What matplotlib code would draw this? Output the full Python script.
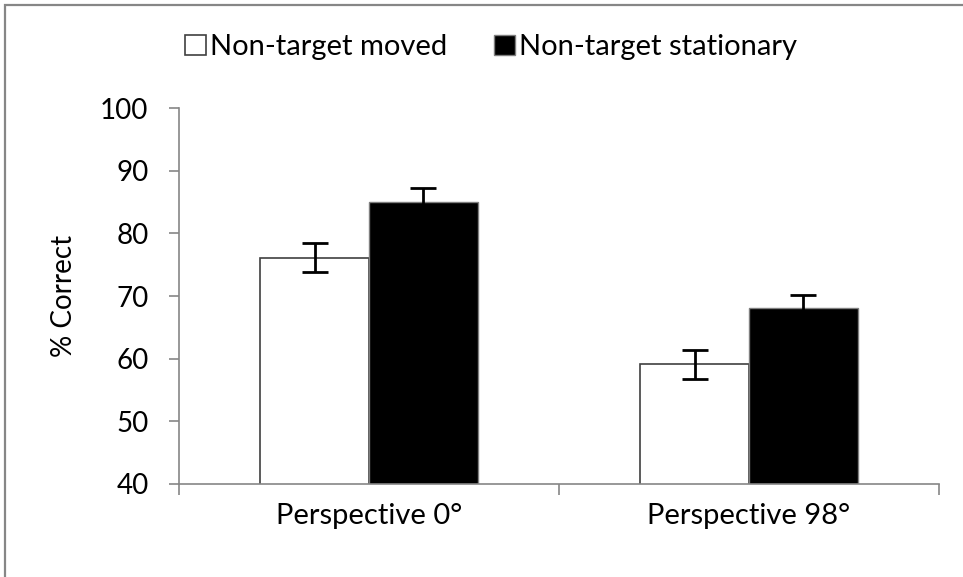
from matplotlib import pyplot as plt
from matplotlib.patches import Rectangle
import numpy as np

plt.rcParams['font.family'] = ['Lato', 'DejaVu Sans']

categories = ['Perspective 0°', 'Perspective 98°']
series_names = ['Non-target moved', 'Non-target stationary']
moved = [76.1, 59.1]
moved_err = [2.3, 2.3]
stationary = [85.0, 68.1]
stationary_err = [2.2, 2.1]
y_ticks = [40, 50, 60, 70, 80, 90, 100]

fig = plt.figure(figsize=(9.63, 5.77), dpi=100)
ax = fig.add_axes([0.186, 0.1617, 0.789, 0.6506])

# outer chart border (only top/left visible in the picture)
fig.patches.append(Rectangle((5 / 963, -0.05), 1.2, 1 - 5 / 577 + 0.05,
                             transform=fig.transFigure, fill=False,
                             edgecolor='#868686', linewidth=1.6))

x = np.arange(len(categories))
w = 0.286
ax.bar(x - w / 2, moved, w, color='white', edgecolor='#404040',
       linewidth=1.2, label=series_names[0], zorder=2)
ax.bar(x + w / 2, stationary, w, color='black', edgecolor='#7f7f7f',
       linewidth=1.0, label=series_names[1], zorder=2)
ax.errorbar(x - w / 2, moved, yerr=moved_err, fmt='none', ecolor='black',
            elinewidth=2.0, capsize=9.5, capthick=2.0, zorder=3)
ax.errorbar(x + w / 2, stationary, yerr=stationary_err, fmt='none', ecolor='black',
            elinewidth=2.0, capsize=9.5, capthick=2.0, zorder=3)

ax.set_ylim(40, 100)
ax.set_xlim(-0.5, 1.5)
ax.set_yticks(y_ticks)
ax.set_xticks([-0.5, 0.5, 1.5])
ax.set_xticklabels([])
ax.set_xticks(x, minor=True)
ax.set_xticklabels(categories, minor=True)
ax.tick_params(axis='x', which='minor', length=0, pad=14, labelsize=21)
ax.tick_params(axis='x', which='major', length=8, width=1.2, color='#868686')
ax.tick_params(axis='y', length=7, width=1.2, color='#868686', labelsize=20, pad=15)
ax.set_ylabel('% Correct', fontsize=20, labelpad=17)

for s in ['top', 'right']:
    ax.spines[s].set_visible(False)
for s in ['left', 'bottom']:
    ax.spines[s].set_color('#868686')
    ax.spines[s].set_linewidth(1.2)

fig.legend(loc='center', bbox_to_anchor=(0.51, 0.918), ncol=2, frameon=False,
           fontsize=21, handlelength=0.7, handleheight=0.7, handletextpad=0.15,
           columnspacing=1.6)

fig.savefig('out.png', dpi=100)
